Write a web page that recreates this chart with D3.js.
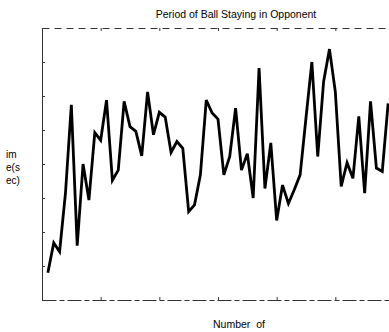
<!DOCTYPE html>
<html>
<head>
<meta charset="utf-8">
<script src="https://cdn.jsdelivr.net/npm/d3@7"></script>
<style>
  body { margin: 0; background: #fff; }
  svg { display: block; font-family: "Liberation Sans", Arial, sans-serif; }
  .frame path.domain { stroke: #333; stroke-width: 1; fill: none; }
  .frame .tick line { stroke: #333; stroke-width: 1; }
</style>
</head>
<body>
<div id="chart"></div>
<script>
// chart values
var timeSec = [4.0, 8.4, 7.1, 15.7, 28.7, 8.0, 20.0, 14.7, 24.6, 23.5,
               29.4, 17.6, 19.1, 29.2, 25.5, 24.8, 21.2, 30.6, 24.3, 27.6,
               26.9, 21.7, 23.3, 22.3, 13.0, 14.0, 18.4, 29.4, 27.5, 26.6,
               18.4, 21.1, 28.2, 19.1, 21.5, 15.0, 34.1, 16.4, 23.1, 11.7,
               16.9, 14.2, 16.2, 18.4, 26.8, 35.0, 21.1, 32.1, 36.9, 30.6,
               16.7, 20.2, 17.9, 27.0, 15.7, 29.2, 19.4, 18.9, 28.9];
var xTicks = [0, 10, 20, 30, 40, 50, 60];
var yTicks = [0, 5, 10, 15, 20, 25, 30, 35, 40];
var titleText = "Period of Ball Staying in Opponent";
var xLabel = "Number of";
var yLabel = ["im", "e(s", "ec)"];

// set the dimensions and margins of the graph
var margin = {top: 28, right: 0, bottom: 32, left: 42},
    width = 352,
    height = 272;

var x = d3.scaleLinear().domain([0, 60]).range([0, width]);
var y = d3.scaleLinear().domain([0, 40]).range([height, 0]);

var line = d3.line()
    .x(function(d, i) { return x(i + 1); })
    .y(function(d) { return y(d); });

var svg = d3.select("#chart").append("svg")
    .attr("width", 389)
    .attr("height", 332);

var g = svg.append("g")
    .attr("transform", "translate(" + margin.left + "," + margin.top + ")");

// frame: left, bottom and top axes with inward ticks, no labels
g.append("g")
    .attr("class", "frame")
    .call(d3.axisLeft(y).tickValues(yTicks).tickSize(-3).tickSizeOuter(0).tickFormat(""));

g.append("g")
    .attr("class", "frame bottom")
    .attr("transform", "translate(0," + height + ")")
    .call(d3.axisBottom(x).tickValues(xTicks).tickSize(-3).tickSizeOuter(0).tickFormat(""));

g.append("g")
    .attr("class", "frame top")
    .call(d3.axisTop(x).tickValues(xTicks).tickSize(-3).tickSizeOuter(0).tickFormat(""));

g.select(".top path.domain").style("stroke-dasharray", "7,5");
g.select(".bottom path.domain").style("stroke-dasharray", "14,3,5,3");

// the series
g.append("path")
    .datum(timeSec)
    .attr("fill", "none")
    .attr("stroke", "#000")
    .attr("stroke-width", 2.8)
    .attr("stroke-linejoin", "miter")
    .attr("d", line);

// texts
svg.append("text")
    .attr("x", 236)
    .attr("y", 18)
    .attr("text-anchor", "middle")
    .style("font-size", "10.5px")
    .text(titleText);

svg.append("text")
    .attr("x", 239)
    .attr("y", 328)
    .attr("text-anchor", "middle")
    .style("font-size", "10.5px")
    .style("word-spacing", "3px")
    .text(xLabel);

svg.selectAll(".ylab")
    .data(yLabel)
    .enter()
    .append("text")
    .attr("class", "ylab")
    .attr("x", 6)
    .attr("y", function(d, i) { return 158 + i * 13; })
    .style("font-size", "10px")
    .text(function(d) { return d; });
</script>
</body>
</html>
